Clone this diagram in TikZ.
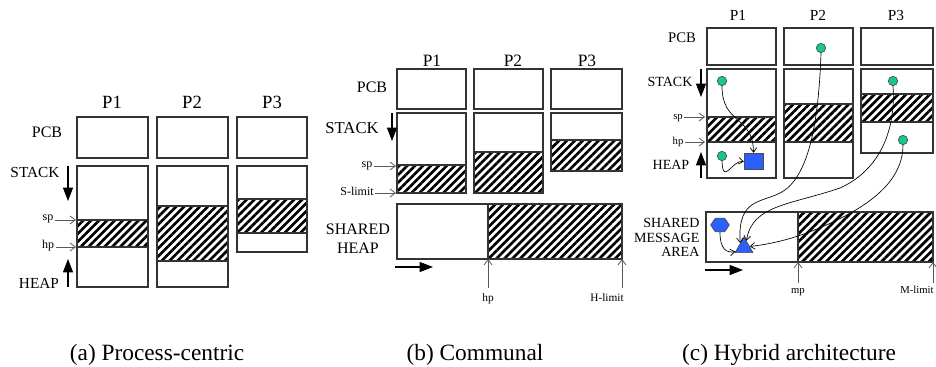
\documentclass[tikz,border=0pt]{standalone}
\usepackage{fontspec}
\setmainfont{Liberation Serif}
\usetikzlibrary{arrows.meta,patterns.meta,shapes.geometric}
\definecolor{boxline}{gray}{0.2}
\definecolor{ptrgray}{gray}{0.35}
\definecolor{mint}{RGB}{20,200,145}
\definecolor{objblue}{RGB}{45,95,250}
\newcommand{\fsz}[1]{\fontsize{#1}{#1}\selectfont}
\tikzset{
  box/.style={draw=boxline, line width=0.9pt},
  hatch/.style={pattern={Lines[angle=45,distance=4.2pt,line width=2pt]}},
  lab/.style={font=\fsz{#1}, inner sep=1pt, anchor=base},
  lab/.default=11,
  bigarrow/.style={draw=black, line width=0.8pt, -{Triangle[length=10pt,width=7.5pt]}},
  ptr/.style={draw=ptrgray, line width=0.6pt, -{Straight Barb[length=4pt,width=6pt]}},
  ref/.style={draw=black, line width=0.5pt, -{Straight Barb[length=3.5pt,width=5pt]}},
  dot/.style={circle, draw=black!70, fill=mint, minimum size=7pt, inner sep=0pt, line width=0.5pt},
  obj/.style={draw=black!70, fill=objblue, inner sep=0pt, line width=0.5pt},
}
\begin{document}
\begin{tikzpicture}[x=0.75pt,y=-0.75pt]
\useasboundingbox (0,0) rectangle (936,367);

% (a) process-centric
\foreach \n/\x in {1/112,2/192,3/272}
  \node[lab=14] (aP\n) at (\x,109) {P\n};
\foreach \l/\r in {77/148,157/228,237/307}
  \draw[box] (\l,117) rectangle (\r,158);
\foreach \l/\r/\b/\hs/\he in {77/148/287/220/247,157/228/287/206/261,237/307/252/199/233} {
  \fill[hatch] (\l,\hs) rectangle (\r,\he);
  \draw[box] (\l,166) rectangle (\r,\b) (\l,\hs) -- (\r,\hs) (\l,\he) -- (\r,\he);
}
\node[lab=12] (aPCB) at (47,138) {PCB};
\node[lab=11.5] (aSTACK) at (35,178) {STACK};
\node[lab=11.5] (aHEAP) at (39,288) {HEAP};
\coordinate (aSt0) at (68,166);
\coordinate (aSt1) at (68,201);
\coordinate (aHp0) at (68,287);
\coordinate (aHp1) at (68,259);
\draw[bigarrow] (aSt0) -- (aSt1);
\draw[bigarrow] (aHp0) -- (aHp1);
\node[lab=9] (asp) at (48,221) {sp};
\node[lab=9] (ahp) at (48,249) {hp};
\coordinate (asp1) at (76,220);
\coordinate (ahp1) at (76,247);
\draw[ptr] (asp.east |- asp1) -- (asp1);
\draw[ptr] (ahp.east |- ahp1) -- (ahp1);

% (b) communal
\foreach \n/\x in {1/432,2/513,3/587}
  \node[lab=13] (bP\n) at (\x,67) {P\n};
\foreach \l/\r in {397/466,474/543,551/622}
  \draw[box] (\l,69) rectangle (\r,109);
\foreach \l/\r/\b/\hs in {397/466/193/165,474/543/193/152,551/622/171/140} {
  \fill[hatch] (\l,\hs) rectangle (\r,\b);
  \draw[box] (\l,113) rectangle (\r,\b) (\l,\hs) -- (\r,\hs);
}
\node[lab=12] (bPCB) at (372,93) {PCB};
\node[lab=12.5] (bSTACK) at (352,134) {STACK};
\coordinate (bSt0) at (392,113);
\coordinate (bSt1) at (392,141);
\draw[bigarrow] (bSt0) -- (bSt1);
\node[lab=9] (bsp) at (367,168) {sp};
\node[lab=9] (bsl) at (357,196) {S-limit};
\coordinate (bsp1) at (396,166);
\coordinate (bsl1) at (396,193);
\draw[ptr] (bsp.east |- bsp1) -- (bsp1);
\draw[ptr] (bsl.east |- bsl1) -- (bsl1);
\fill[hatch] (488,204) rectangle (622,259);
\draw[box] (397,204) rectangle (622,259) (488,204) -- (488,259);
\node[lab=12] (bSH1) at (358,235) {SHARED};
\node[lab=12] (bSH2) at (358,253) {HEAP};
\coordinate (bAr0) at (395,267);
\coordinate (bAr1) at (433,267);
\draw[bigarrow] (bAr0) -- (bAr1);
\node[lab=8.5] (bhp) at (488,301) {hp};
\node[lab=8.5] (bhl) at (607,301) {H-limit};
\coordinate (bhp0) at (488,288);
\coordinate (bhp1) at (488,259);
\coordinate (bhl0) at (622,288);
\coordinate (bhl1) at (622,259);
\draw[ptr] (bhp0) -- (bhp1);
\draw[ptr] (bhl0) -- (bhl1);

% (c) hybrid architecture
\foreach \n/\x in {1/738,2/818,3/896}
  \node[lab=11.5] (cP\n) at (\x,21) {P\n};
\foreach \l/\r in {707/776,784/853,861/933}
  \draw[box] (\l,28) rectangle (\r,65);
\foreach \l/\r/\b/\hs/\he in {707/776/178/117/142,784/853/178/104/142,861/933/153/94/122} {
  \fill[hatch] (\l,\hs) rectangle (\r,\he);
  \draw[box] (\l,69) rectangle (\r,\b) (\l,\hs) -- (\r,\hs) (\l,\he) -- (\r,\he);
}
\node[lab=11] (cPCB) at (682,43) {PCB};
\node[lab=10.5] (cSTACK) at (670,87) {STACK};
\node[lab=10.5] (cHEAP) at (671,170) {HEAP};
\coordinate (cSt0) at (701,69);
\coordinate (cSt1) at (701,97);
\coordinate (cHp0) at (701,178);
\coordinate (cHp1) at (701,152);
\draw[bigarrow] (cSt0) -- (cSt1);
\draw[bigarrow] (cHp0) -- (cHp1);
\node[lab=8] (csp) at (678,120) {sp};
\node[lab=8] (chp) at (678,145) {hp};
\coordinate (csp1) at (705,117);
\coordinate (chp1) at (705,142);
\draw[ptr] (csp.east |- csp1) -- (csp1);
\draw[ptr] (chp.east |- chp1) -- (chp1);
\fill[hatch] (798,212) rectangle (933,262);
\draw[box] (706,212) rectangle (933,262) (798,212) -- (798,262);
\node[lab=10.5, anchor=base east] (cSM1) at (701,228) {SHARED};
\node[lab=10.5, anchor=base east] (cSM2) at (701,243) {MESSAGE};
\node[lab=10.5, anchor=base east] (cSM3) at (701,257) {AREA};
\coordinate (cAr0) at (705,270);
\coordinate (cAr1) at (743,270);
\draw[bigarrow] (cAr0) -- (cAr1);
\node[lab=8] (cmp) at (798,294) {mp};
\node[lab=8] (cml) at (917,294) {M-limit};
\coordinate (cmp0) at (798,283);
\coordinate (cmp1) at (798,262);
\coordinate (cml0) at (933,283);
\coordinate (cml1) at (933,262);
\draw[ptr] (cmp0) -- (cmp1);
\draw[ptr] (cml0) -- (cml1);
% objects and references
\node[dot] (c1s) at (722,81) {};
\node[dot] (c1h) at (722,156) {};
\node[dot] (c2p) at (821,48) {};
\node[dot] (c3s) at (893,81) {};
\node[dot] (c3h) at (903,140) {};
\node[obj, minimum width=14pt, minimum height=12.5pt] (cobj) at (753.5,161.5) {};
\node[obj, regular polygon, regular polygon sides=6, minimum size=14pt, yscale=0.85] (chex) at (720,225) {};
\node[obj, regular polygon, regular polygon sides=3, minimum size=15.5pt] (ctri) at (744,247.5) {};
\draw[ref] (c1s.south) .. controls (722,125) and (753,115) .. (cobj.north);
\draw[ref] (c1h.south) .. controls (723,186) and (732,160) .. (cobj.west);
\draw[ref] (c2p.south) .. controls (819,110) and (812,170) .. (785,190)
  .. controls (765,204) and (737,195) .. (ctri.130);
\draw[ref] (c3s.south) .. controls (896,130) and (880,170) .. (840,188)
  .. controls (790,205) and (752,205) .. (ctri.70);
\draw[ref] (c3h.south) .. controls (903,175) and (880,200) .. (833,222)
  .. controls (805,235) and (780,243) .. (ctri.10);
\draw[ref] (chex.south) .. controls (720,250) and (727,253) .. (ctri.205);

% captions
\node[lab=17.5] (capA) at (157,360) {(a) Process-centric};
\node[lab=17.5] (capB) at (475,360) {(b) Communal};
\node[lab=17.5] (capC) at (789,360) {(c) Hybrid architecture};
\end{tikzpicture}
\end{document}
